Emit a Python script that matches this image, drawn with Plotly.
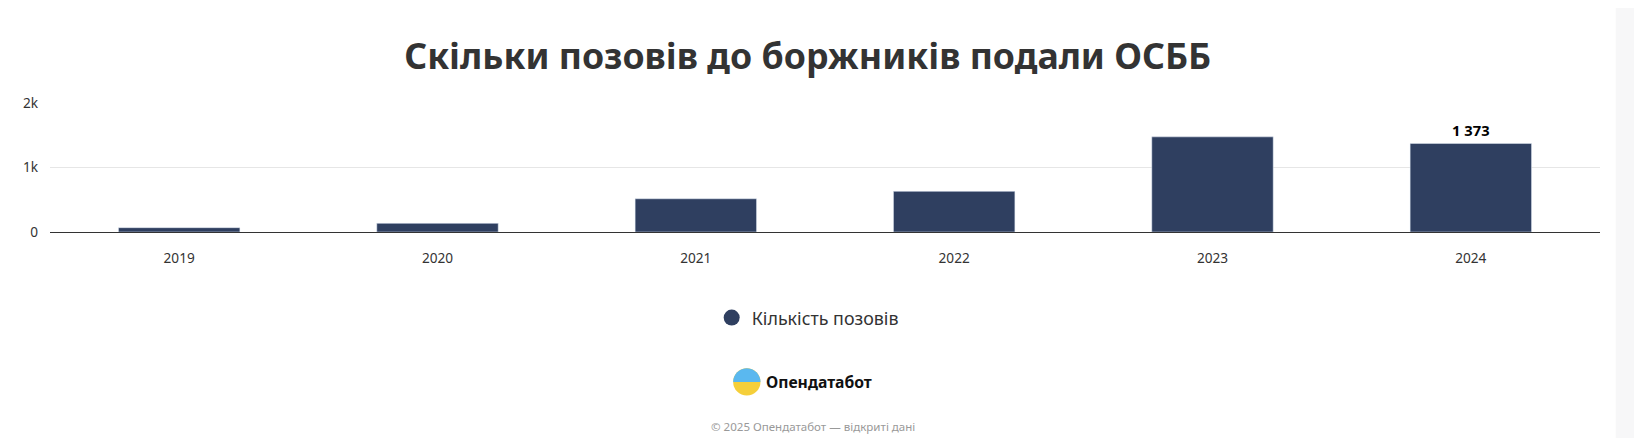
import math
import plotly.graph_objects as go

years = ["2019", "2020", "2021", "2022", "2023", "2024"]
claims = [67, 134, 515, 630, 1475, 1373]
labels = ["", "", "", "", "", "<b>1 373</b>"]

# the page is photographed slightly scaled; work in target pixels and convert
S, OFF = 0.953, 7.5


def t(v):
    return (v - OFF) / S


W, H = 1642, 438
L, R, T, B = t(48), W - t(1525), t(98), H - t(221)
pw, ph = W - L - R, H - T - B


def px(x):
    return (t(x) - L) / pw


def py(y):
    return (H - B - t(y)) / ph


def fs(s):
    return s / S


fig = go.Figure()
fig.add_trace(go.Bar(
    x=years, y=claims, name="Кількість позовів", showlegend=False,
    marker=dict(color="#2f3f60"), width=0.47,
    text=labels, textposition="outside",
    textfont=dict(size=fs(14), color="#000", family="Noto Sans"),
    cliponaxis=False,
))
fig.add_trace(go.Scatter(
    x=[None], y=[None], mode="markers", name="Кількість позовів",
    marker=dict(color="#2f3f60", size=fs(18), symbol="circle"),
))

# logo: yellow disc with blue upper half
cx, cy, r = 712, 364, 13
half = [(cx + r * math.cos(a / 20 * math.pi), cy - r * math.sin(a / 20 * math.pi)) for a in range(21)]
path = "M " + " L ".join(f"{px(x)},{py(y)}" for x, y in half) + " Z"

fig.update_layout(
    width=W, height=H, autosize=False,
    paper_bgcolor="#f7f7f8", plot_bgcolor="white",
    font=dict(family="Noto Sans", color="#333"),
    title=dict(text="<b>Скільки позовів до боржників подали ОСББ</b>",
               x=px(770), xanchor="center", xref="paper", y=1 - t(54) / H, yanchor="middle",
               font=dict(size=fs(34), color="#333")),
    margin=dict(l=L, r=R, t=T, b=B),
    bargap=0.52,
    showlegend=True,
    legend=dict(orientation="h", x=px(770), xanchor="center", y=py(303), yanchor="middle",
                bgcolor="rgba(0,0,0,0)", font=dict(size=fs(17), color="#333")),
    xaxis=dict(showline=True, linecolor="#333", linewidth=1,
               tickfont=dict(size=fs(13), color="#333"), ticks="", ticklabelstandoff=14),
    yaxis=dict(range=[0, 2000], tickvals=[0, 1000, 2000], ticktext=["0", "1k", "2k"],
               gridcolor="#e6e6e6", tickfont=dict(size=fs(13), color="#333"), zeroline=False,
               ticklabelstandoff=11),
    shapes=[
        dict(type="rect", xref="paper", yref="paper", x0=-1, x1=px(1540),
             y0=-5, y1=py(6), fillcolor="white", line_width=0, layer="below"),
        dict(type="circle", xref="paper", yref="paper",
             x0=px(cx - r), x1=px(cx + r), y0=py(cy + r), y1=py(cy - r),
             fillcolor="#f5cf3a", line_width=0),
        dict(type="path", xref="paper", yref="paper", path=path,
             fillcolor="#5ab8ef", line_width=0),
    ],
    annotations=[
        dict(text="<b>Опендатабот</b>", xref="paper", yref="paper",
             x=px(728), y=py(364), xanchor="left", yanchor="middle", showarrow=False,
             font=dict(size=fs(15), color="#111")),
        dict(text="© 2025 Опендатабот — відкриті дані", xref="paper", yref="paper",
             x=px(775), y=py(406), xanchor="center", yanchor="middle", showarrow=False,
             font=dict(size=fs(11), color="#999")),
    ],
)
fig.write_html("out.html")
